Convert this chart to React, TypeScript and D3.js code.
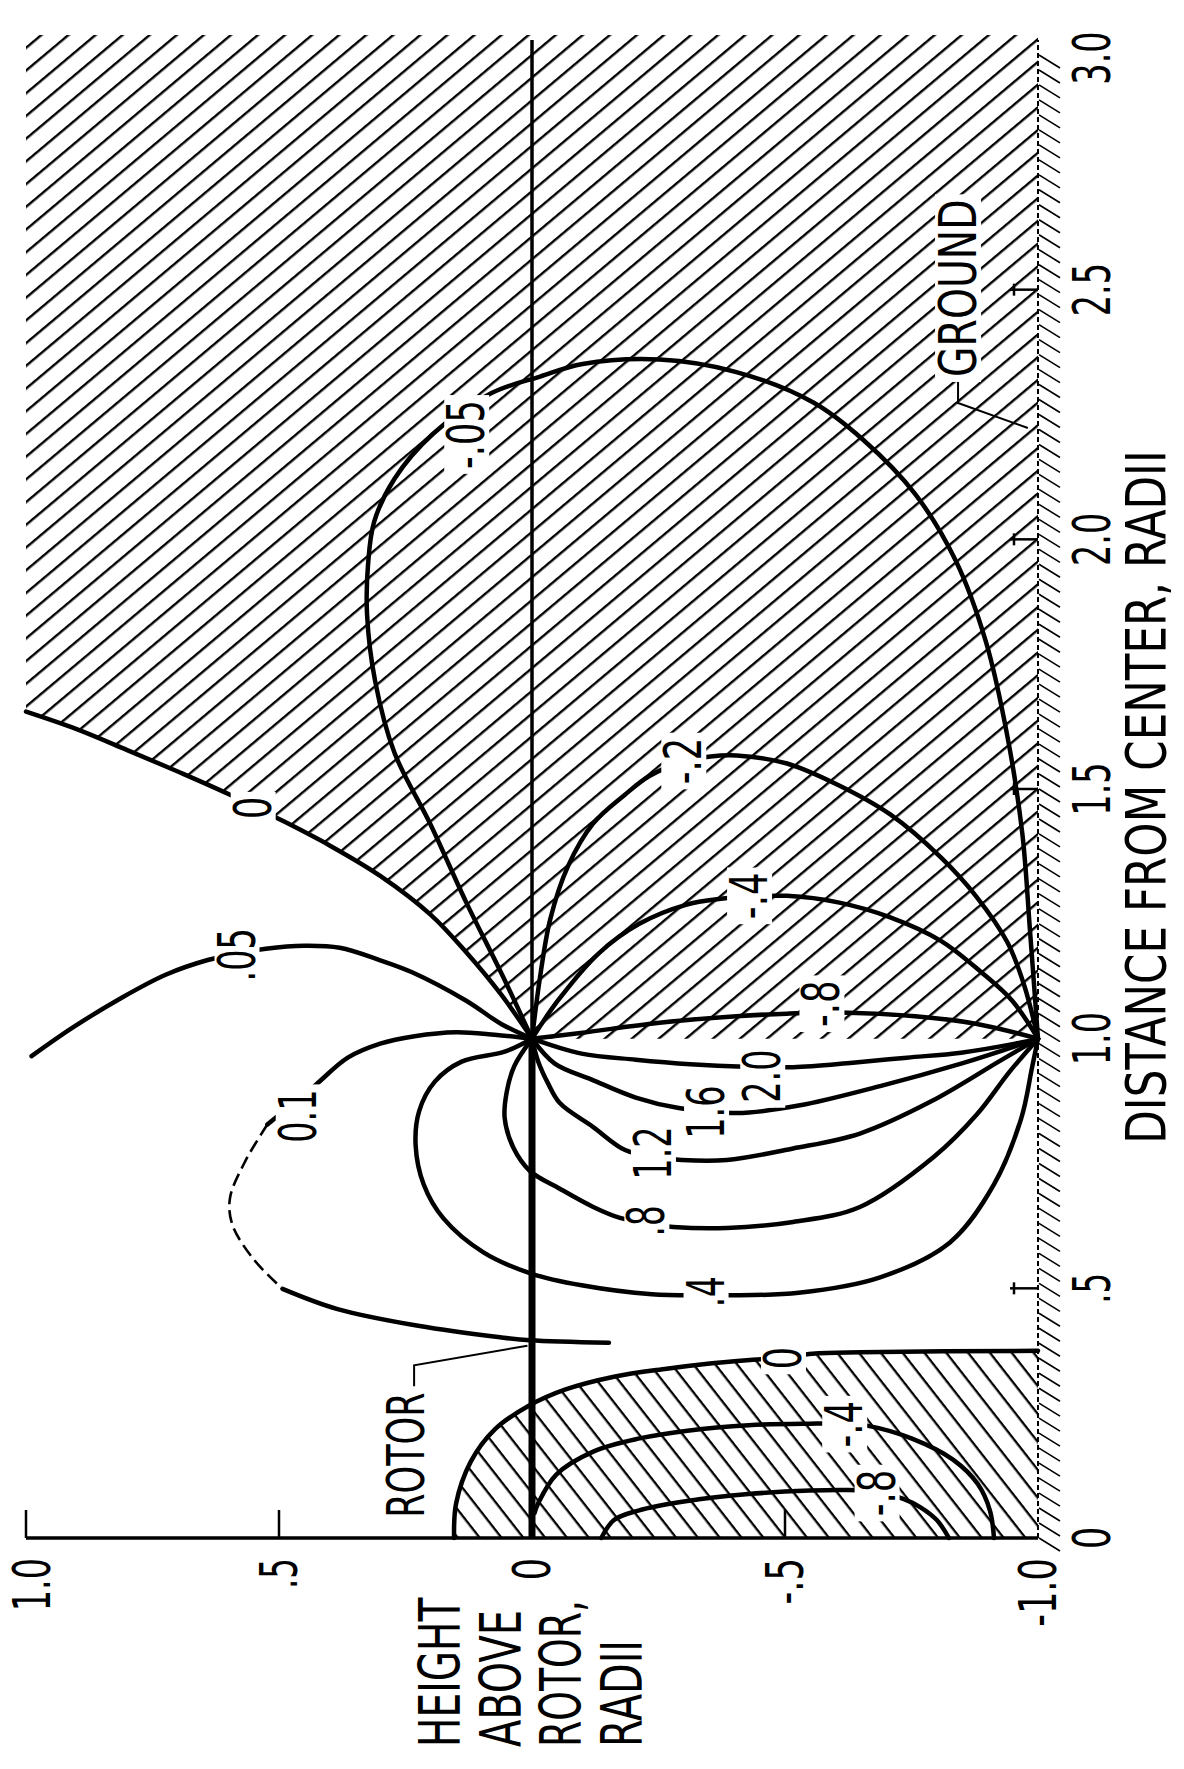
import * as d3 from 'd3'

type Pt = [number, number] // [height above rotor, distance from center], rotor radii

const W = 1184
const H = 1769

// contour lines
const contourZero: Pt[] = [[1.0, 1.655], [0.9, 1.62], [0.8, 1.578], [0.7, 1.535], [0.6, 1.49], [0.5, 1.44], [0.4, 1.387], [0.3, 1.326], [0.2, 1.248], [0.13, 1.173], [0.06, 1.087], [0, 1]]
const contour005: Pt[] = [[0.989, 0.965], [0.908, 1.022], [0.816, 1.079], [0.724, 1.128], [0.639, 1.158], [0.583, 1.17], [0.526, 1.18], [0.45, 1.186], [0.38, 1.182], [0.3, 1.157], [0.237, 1.133], [0.13, 1.076], [0.06, 1.029], [0, 1]]
const contour01: Pt[] = [[0, 1], [0.074, 1.008], [0.15, 1.013], [0.232, 1.005], [0.3, 0.99], [0.364, 0.962], [0.427, 0.908], [0.475, 0.868], [0.523, 0.828], [0.568, 0.752], [0.597, 0.68], [0.592, 0.627], [0.55, 0.558], [0.493, 0.499], [0.386, 0.459], [0.225, 0.425], [0.063, 0.402], [0.004, 0.396], [-0.152, 0.391]]
const contour01Dashed: [number, number] = [8, 13]
const contour04: Pt[] = [[0, 1], [0.054, 0.974], [0.139, 0.954], [0.192, 0.914], [0.223, 0.855], [0.23, 0.787], [0.214, 0.708], [0.175, 0.64], [0.096, 0.572], [0, 0.529], [-0.098, 0.506], [-0.237, 0.488], [-0.344, 0.486], [-0.386, 0.486], [-0.527, 0.491], [-0.688, 0.522], [-0.826, 0.592], [-0.913, 0.708], [-0.967, 0.841], [-0.988, 0.941], [-1, 1]]
const contour08: Pt[] = [[0, 1], [0.035, 0.945], [0.05, 0.893], [0.054, 0.841], [0.037, 0.782], [0.004, 0.735], [-0.054, 0.7], [-0.121, 0.663], [-0.174, 0.641], [-0.232, 0.629], [-0.279, 0.623], [-0.385, 0.621], [-0.516, 0.633], [-0.648, 0.663], [-0.795, 0.764], [-0.879, 0.848], [-0.944, 0.934], [-1, 1]]
const contour12: Pt[] = [[0, 1], [-0.012, 0.955], [-0.032, 0.91], [-0.055, 0.871], [-0.121, 0.823], [-0.184, 0.777], [-0.25, 0.762], [-0.296, 0.757], [-0.385, 0.757], [-0.516, 0.78], [-0.648, 0.81], [-0.79, 0.875], [-0.924, 0.955], [-1, 1]]
const contour16: Pt[] = [[0, 1], [-0.045, 0.95], [-0.118, 0.918], [-0.205, 0.882], [-0.29, 0.861], [-0.404, 0.851], [-0.527, 0.866], [-0.688, 0.905], [-0.848, 0.95], [-0.935, 0.978], [-1, 1]]
const contour20: Pt[] = [[0, 1], [-0.098, 0.97], [-0.205, 0.958], [-0.313, 0.949], [-0.42, 0.944], [-0.516, 0.943], [-0.634, 0.952], [-0.741, 0.962], [-0.848, 0.972], [-0.955, 0.99], [-1, 1]]
const contourNeg005: Pt[] = [[0, 1], [0.06, 1.13], [0.13, 1.273], [0.201, 1.43], [0.272, 1.573], [0.31, 1.716], [0.326, 1.85], [0.324, 1.95], [0.312, 2.035], [0.272, 2.121], [0.196, 2.211], [0.08, 2.293], [-0.016, 2.326], [-0.1, 2.351], [-0.252, 2.36], [-0.404, 2.335], [-0.556, 2.274], [-0.656, 2.198], [-0.757, 2.091], [-0.837, 1.958], [-0.897, 1.795], [-0.94, 1.603], [-0.969, 1.411], [-0.984, 1.219], [-1, 1]]
const contourNeg02: Pt[] = [[0, 1], [-0.016, 1.124], [-0.036, 1.239], [-0.071, 1.345], [-0.121, 1.431], [-0.183, 1.488], [-0.232, 1.526], [-0.3, 1.555], [-0.353, 1.565], [-0.404, 1.567], [-0.504, 1.551], [-0.605, 1.508], [-0.708, 1.449], [-0.808, 1.363], [-0.877, 1.286], [-0.94, 1.192], [-0.973, 1.106], [-1, 1]]
const contourNeg04: Pt[] = [[0, 1], [-0.051, 1.076], [-0.132, 1.171], [-0.212, 1.23], [-0.304, 1.268], [-0.373, 1.28], [-0.44, 1.285], [-0.504, 1.286], [-0.605, 1.273], [-0.708, 1.243], [-0.808, 1.196], [-0.888, 1.133], [-0.949, 1.076], [-1, 1]]
const contourNeg08: Pt[] = [[0, 1], [-0.1, 1.012], [-0.252, 1.032], [-0.404, 1.045], [-0.504, 1.05], [-0.625, 1.052], [-0.757, 1.045], [-0.877, 1.03], [-1, 1]]

// contours under the rotor hub
const hubZero: Pt[] = [[0.154, 0], [0.15, 0.069], [0.121, 0.153], [0.073, 0.218], [0.008, 0.264], [-0.065, 0.297], [-0.162, 0.323], [-0.266, 0.339], [-0.347, 0.349], [-0.436, 0.357], [-0.5, 0.362], [-0.554, 0.369], [-0.65, 0.372], [-1.0, 0.375]]
const hubNeg04: Pt[] = [[-0.005, 0.05], [-0.012, 0.069], [-0.048, 0.127], [-0.121, 0.173], [-0.21, 0.199], [-0.307, 0.215], [-0.428, 0.226], [-0.549, 0.229], [-0.618, 0.229], [-0.662, 0.225], [-0.751, 0.199], [-0.832, 0.157], [-0.881, 0.108], [-0.905, 0.055], [-0.913, 0]]
const hubNeg08: Pt[] = [[-0.137, 0], [-0.162, 0.036], [-0.21, 0.055], [-0.307, 0.074], [-0.428, 0.088], [-0.549, 0.095], [-0.622, 0.096], [-0.68, 0.092], [-0.735, 0.078], [-0.767, 0.062], [-0.8, 0.036], [-0.824, 0]]

const contours = [contourZero, contour005, contour04, contour08, contour12, contour16, contour20, contourNeg005, contourNeg02, contourNeg04, contourNeg08, hubZero, hubNeg04, hubNeg08]

const contourLabels = [
  { text: '0', z: 0.551, r: 1.462 },
  { text: '.05', z: 0.583, r: 1.168 },
  { text: '0.1', z: 0.462, r: 0.845 },
  { text: '-.05', z: 0.129, r: 2.21 },
  { text: '-.2', z: -0.3, r: 1.556 },
  { text: '-.4', z: -0.43, r: 1.286 },
  { text: '-.8', z: -0.573, r: 1.07 },
  { text: '2.0', z: -0.456, r: 0.925 },
  { text: '1.6', z: -0.345, r: 0.853 },
  { text: '1.2', z: -0.24, r: 0.771 },
  { text: '.8', z: -0.227, r: 0.635 },
  { text: '.4', z: -0.344, r: 0.493 },
  { text: '0', z: -0.497, r: 0.36 },
  { text: '-.4', z: -0.618, r: 0.228 },
  { text: '-.8', z: -0.682, r: 0.09 },
]

const heightTicks = [1, 0.5, -0.5]
const heightTickLabels = [
  { v: 1, t: '1.0' }, { v: 0.5, t: '.5' }, { v: 0, t: '0' }, { v: -0.5, t: '-.5' }, { v: -1, t: '-1.0' },
]
const distanceTicks = [0.5, 1.5, 2, 2.5]
const distanceTickLabels = [
  { v: 0, t: '0' }, { v: 0.5, t: '.5' }, { v: 1, t: '1.0' }, { v: 1.5, t: '1.5' },
  { v: 2, t: '2.0' }, { v: 2.5, t: '2.5' }, { v: 3, t: '3.0' },
]
const heightTitle = ['HEIGHT', 'ABOVE', 'ROTOR,', 'RADII']

const rotorLeader: Pt[] = [[0.233, 0.304], [0.233, 0.346], [0.009, 0.385]]
const groundLeader: Pt[] = [[-0.842, 2.319], [-0.842, 2.273], [-0.98, 2.223]]

// the page is drawn turned a quarter: height runs left→right, distance bottom→top
const x = d3.scaleLinear([1, -1], [26, 1038])
const y = d3.scaleLinear([0, 3], [1538, 40])

const smooth = d3.line<Pt>().x((d) => x(d[0])).y((d) => y(d[1])).curve(d3.curveCatmullRom.alpha(0.5))
const straight = d3.line<Pt>().x((d) => x(d[0])).y((d) => y(d[1]))

const charW = (c: string) =>
  /[0-9]/.test(c) ? 0.6 : c === '.' || c === ',' ? 0.24 : c === '-' ? 0.42 : c === ' ' ? 1.0 : c === 'I' ? 0.3 : 0.66

function Label({ x, y, text, cap = 37, anchor = 'middle', box = false, stretch = 1 }: {
  x: number; y: number; text: string; cap?: number; anchor?: string; box?: boolean; stretch?: number
}) {
  const len = [...text].reduce((s, c) => s + charW(c), 0) * cap * stretch
  return (
    <g transform={`translate(${x},${y}) rotate(-90)`}>
      {box && <rect x={-len / 2 - 5} y={-cap / 2 - 4} width={len + 10} height={cap + 8} fill="#fff" />}
      <text
        textAnchor={anchor}
        dominantBaseline="central"
        fontSize={cap / 0.729}
        textLength={len}
        lengthAdjust="spacingAndGlyphs"
      >
        {text}
      </text>
    </g>
  )
}

export default function App() {
  const regionA =
    `M${x(1)},${y(3.01)}L${x(-1)},${y(3.01)}L${x(-1)},${y(1)}` +
    smooth([...contourZero].reverse())!.replace(/^M/, 'L') + 'Z'
  const regionB = smooth(hubZero)! + `L${x(-1)},${y(0)}Z`
  const [d0, d1] = contour01Dashed

  return (
    <svg
      width={W}
      height={H}
      style={{ position: 'absolute', left: 0, top: 0 }}
      fontFamily="DejaVu Sans"
    >
      <defs>
        <pattern id="hatchA" patternUnits="userSpaceOnUse" width={20} height={17.4} patternTransform="rotate(-40)">
          <rect x={0} y={0} width={20} height={2.4} fill="#000" />
        </pattern>
        <pattern id="hatchB" patternUnits="userSpaceOnUse" width={20} height={17.2} patternTransform="rotate(52)">
          <rect x={0} y={0} width={20} height={2.3} fill="#000" />
        </pattern>
      </defs>
      <rect width={W} height={H} fill="#fff" />

      {/* negative regions */}
      <path d={regionA} fill="url(#hatchA)" />
      <path d={regionB} fill="url(#hatchB)" />

      {/* ground */}
      <g stroke="#000" strokeWidth={1.6}>
        {d3.range(0, 3.0, 0.03).map((r) => (
          <line key={r} x1={x(-1) + 1} y1={y(r)} x2={x(-1) + 22} y2={y(r) + 13} />
        ))}
      </g>
      <line x1={x(-1)} x2={x(-1)} y1={y(0)} y2={y(3)} stroke="#000" strokeWidth={2} strokeDasharray="5 3" />

      {/* height axis */}
      <line x1={x(1)} x2={x(-1)} y1={y(0)} y2={y(0)} stroke="#000" strokeWidth={3.5} />
      {heightTicks.map((v) => (
        <line key={v} x1={x(v)} x2={x(v)} y1={y(0)} y2={y(0) - 28} stroke="#000" strokeWidth={2.5} />
      ))}
      {distanceTicks.map((v) => (
        <g key={v} stroke="#000" strokeWidth={2.5}>
          <line x1={x(-1)} x2={x(-1) - 28} y1={y(v)} y2={y(v)} />
          <line x1={x(-1) - 24} x2={x(-1) - 24} y1={y(v) - 6} y2={y(v) + 6} />
        </g>
      ))}

      {/* rotor disc and its centre line */}
      <line x1={x(0)} x2={x(0)} y1={y(0)} y2={y(1)} stroke="#000" strokeWidth={7} />
      <line x1={x(0)} x2={x(0)} y1={y(1)} y2={y(3)} stroke="#000" strokeWidth={3.5} />

      {/* contours */}
      <g fill="none" stroke="#000" strokeWidth={4.5} strokeLinecap="round" strokeLinejoin="round">
        {contours.map((c, i) => (
          <path key={i} d={smooth(c)!} />
        ))}
        <path d={smooth(contour01.slice(0, d0 + 1))!} />
        <path d={smooth(contour01.slice(d1))!} />
        <path d={smooth(contour01.slice(d0, d1 + 1))!} strokeWidth={2.6} strokeDasharray="13 6" strokeLinecap="butt" />
      </g>

      {/* leaders */}
      <g fill="none" stroke="#000" strokeWidth={2}>
        <path d={straight(rotorLeader)!} />
        <path d={straight(groundLeader)!} />
      </g>

      {contourLabels.map((l, i) => (
        <Label key={i} x={x(l.z)} y={y(l.r)} text={l.text} box />
      ))}

      <Label x={x(0.25)} y={y(0.166)} text="ROTOR" cap={38} />
      <Label x={x(-0.842)} y={y(2.503)} text="GROUND" cap={38} stretch={1.18} box />

      {heightTickLabels.map((l) => (
        <Label key={l.t} x={Math.max(x(l.v), 32)} y={y(0) + 20} text={l.t} anchor="end" />
      ))}
      {distanceTickLabels.map((l) => (
        <Label key={l.t} x={1092} y={Math.max(y(l.v), 58)} text={l.t} />
      ))}

      {heightTitle.map((t, i) => (
        <Label key={t} x={440 + i * 60.5} y={1747} text={t} cap={41.5} anchor="start" />
      ))}
      <Label x={1146} y={797} text="DISTANCE FROM CENTER, RADII" cap={40} />
    </svg>
  )
}
